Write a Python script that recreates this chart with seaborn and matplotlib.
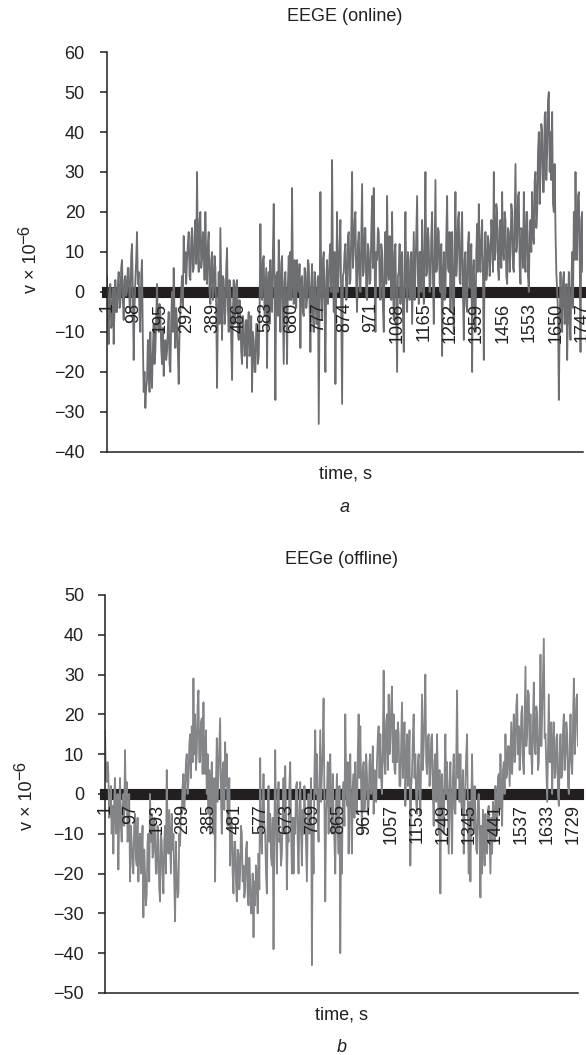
import numpy as np
import pandas as pd
import matplotlib
matplotlib.use('Agg')
import matplotlib.pyplot as plt
import seaborn as sns

# EEG online trace (v x 1e-6) left to right
eeg_online = [
    4, -6, -13, 0, 2, -9, -8, 1, -13, -4, 3, -5,
    -5, 2, 5, -4, -3, 6, 8, -2, -7, 3, 4, -1,
    0, 6, 6, -3, -5, 9, 12, 0, -17, -4, 3, 8,
    15, 2, 5, -6, -10, 4, 8, -12, -25, -20, -29, -24,
    -22, -12, -18, -25, -10, -20, -24, -14, -8, -18, -15, -6,
    2, -8, -10, -3, -5, -14, -18, -9, -21, -13, -12, -17,
    -15, -9, -5, -18, -20, -7, 0, -10, 6, -6, -14, -4,
    -8, -15, -23, -10, -5, 0, 4, -4, 14, 5, 10, 2,
    8, 12, 15, 4, 3, 13, 16, 5, 6, 14, 18, 7,
    30, 10, 5, 18, 20, 6, 8, 15, 12, 3, 20, 8,
    2, 12, 15, 0, -3, 8, 10, -2, 0, 9, 6, -4,
    -24, -5, 5, -8, 16, 2, -12, 4, 3, -8, -5, 6,
    11, -4, -10, 3, 0, -12, -22, -5, 3, -8, -5, 2,
    3, -10, -12, -2, -6, -15, -18, -6, -8, -16, -15, -7,
    -19, -8, -5, -16, -14, -6, -25, -10, -12, -20, -20, -8,
    -8, -18, -16, -5, 17, 0, -2, 8, 9, -6, 0, 6,
    -19, 2, 5, -8, 8, -3, -5, 10, 22, 0, -27, 4,
    5, -6, 13, 0, -10, 7, 9, -4, -18, 3, 5, -3,
    -18, 2, 9, -2,
    10, -2, 26, 3, -3, 8, 5, -4, 8, 2, 0, 7,
    -14, 3, 4, -5, -6, 6, 5, -4, -2, 8, 7, -3,
    -15, 2, 7, -6, -10, 5, 3, -8, -8, 4, -33, -5,
    25, 2, -7, 8, 10, -4, -20, 3, 8, -3, 2, 9,
    12, 0, 33, 6, -5, 10, -23, 2, 20, 0, 5, 12,
    18, -5, -28, 4, 5, 10, 12, -2, 0, 14, 15, 2,
    3, 15, 30, 6, 10, 18, 20, 2, -5, 12, 15, 4,
    0, 14, 27, 4, 5, 16, 16, -1, -2, 12, 10, 2,
    3, 15, 24, 6, 26, 8, -10, 10, 8, 16, 15, 2,
    -2, 12, 10, -4, -10, 8, 15, 2, 24, 5, 3, 14,
    8, -2, 20, 3, -7, 10, 12, -4, -20, 4, 5, 12,
    -3, 8, 10, -6, -15, 6, 20, 2, -5, 10, 8, -2,
    0, 10, -8, 4, 15, -2, 5, 14, 24, 3, -3, 10,
    10, 0, 18, 5, -3, 12, 30, 4, 5, 16, 12, 0,
    2, 14, 20, 3, -8, 10, 28, 5, 6, 16, 15, 2,
    0, 12, -16, 3, 10, -2, 0, 14, 24, 6, 5, 15,
    -5, 10, 15, -3, -10, 12, 25, 4, 8, 18, 20, 3,
    2, 14, 20, 0, -12, 8, 10, -3, -5, 12, 15, 1,
    3, 12, -20, 5, 8, -4, -10, 10, 17, 5, 22, 8,
    5, 14, 18, 4, -17, 8, 15, 3, 5, 14, 12, 4,
    8, 18, 15, 5, 30, 8, 10, 22, 20, 6, 3, 16,
    18, 6, 25, 10, 8, 20, 18, 4, 2, 16, 15, 5,
    10, 22, 20, 6, 5, 18, 32, 10, 12, 24, 25, 6,
    2, 16, 15, 6, 25, 10, 5, 20, 20, 4, 0, 15,
    18, 10, 25, 14, 12, 28, 30, 16, 20, 35, 40, 22,
    30, 42, 40, 25, 25, 44, 45, 28, 35, 48, 50, 30,
    40, 28, 45, 22, 20, 32, 15, 5, 0, -5, -27, -8,
    5, -6, -10, 3, 5, -8, -5, 2, -17, -4, 5, -8,
    -12, 2, 10, -4, 20, 8, 30, 12, 8, 24, 25, 10,
    -15, 18, 20, 5,
]

# EEG offline trace
eeg_offline = [
    16, 4, 3, 8, 5, -6, -5, 2, -10, -3,
    -15, -2, 4, -10, -8, 0, -19, -6, 4, -8, -12, -3,
    0, -8, 11, -4, 3, -12, -10, 0, -22, -8, -12, -18,
    -20, -8, -5, -16, -18, -6, -22, -12, -10, -20, -15, -8,
    -31, -14, -20, -28, -25, -12, -10, -22, 0, -12, -5, -16,
    -15, -6, -10, -20, -20, -8, -12, -24, -27, -10, -12, -20,
    -25, -12, -8, -20, 6, -10, -15, -4, -12, -20, -5, -14,
    -10, -22, -32, -12, -20, -26, -25, -10, -13, -4, -5, 2,
    5, -4, 0, 8, 10, 0, 3, 12, 15, 4, 17, 8,
    29, 10, 20, 6, 10, 22, 26, 8, 8, 18, 19, 5,
    23, 8, 5, 16, 0, 10, -5, 6, -10, 2, 8, -4,
    -10, 4, -22, 2, 14, -2, 5, 12, 19, 0, -10, 6,
    8, -4, 13, 2, 10, -8, -5, 4, -18, -6, -8, -20,
    -25, -12, -12, -22, -27, -14, -15, -24, -20, -8, -10, -22,
    -18, -26, -24, -14, -12, -25, -28, -16, -22, -30, -30, -20,
    -36, -22, -28, -18, -20, -30, -15, -24, 9, -10, -15, -4,
    5, -8, -10, -20, -25, -5, 2, -12, -5, -16, -18, -6,
    -39, -10, 11, -6, -20, -4, 3, -12, -10, -18, -15, -4,
    4, -10, 7, -6, -24, -10, -12, 2, 8, -8, -20, -6,
    -20, -6, -10, 2, 3, -12, -20, -4,
    3, -10, -18, -4, -10, 2, -5, -14, -22, -6, 0, -10,
    -5, 4, -43, -8, -20, 5, 16, 0, 10, -6, -12, 2,
    16, -2, 5, 12, 24, 0, -27, -5, 0, 8, -10, 4,
    10, -4, -10, 5, -5, -12, -20, -2, 5, -8, -15, 2,
    -40, -10, -20, 0, 3, -8, 20, 4, -3, 8, -15, 2,
    10, -6, -15, 2, 5, -6, 8, -4, -5, 10, 20, 4,
    17, 2, -10, 6, 8, -4, 0, 10, 5, -5, -3, 8,
    10, 0, 2, 12, -5, 6, 5, -2, 8, 14, 17, 4,
    15, 4, 0, 12, 31, 8, 5, 18, 20, 6, 25, 10,
    13, 22, 27, 8, 20, 6, 5, 16, 8, 18, 15, 2,
    2, 12, 23, 4, 10, 18, -3, 8, 15, 2, 8, 16,
    -18, 2, 5, 14, 20, 4, 10, -2, -5, 8, 10, 0,
    -5, 10, 25, 6, 12, 20, 30, 8, 5, 14, 15, 2,
    5, 14, 15, 0, -8, 8, 10, -2, 15, 4, -10, 6,
    -25, 2, 5, -6, -10, 4, 15, 0, 8, -4, -15, 2,
    8, -6, -15, 4, 10, -4, -5, 8, 26, 4, 10, -2,
    10, -2, -5, 6, -15, -2, 3, 10, 15, -5, -20, -2,
    -22, -4, 10, -6, -10, 2, -5, -14, -15, -2, 0, -10,
    -26, -8, -20, -4, -10, -18, -5, -14, -15, -4, -3, -12,
    -20, -6, -15, -2, -5, -12, 2, -6, -10, 4, 5, -4,
    10, 0, -8, 6, 8, 0, 15, 4, 5, 12, 12, 2,
    10, 18, 5, 12, 20, 8, 10, 22, 25, 10, 17, 6,
    10, 20, 22, 8, 5, 18, 32, 12, 15, 26, 25, 10,
    20, 10, 5, 18, 28, 12, 10, 22, 20, 6, 8, 18,
    35, 12, 20, 30, 39, 14, 15, 6, -2, 12, 25, 8,
    8, 18, 0, 12, 18, 4, 5, 14, 15, 0, -3, 10,
    15, 4, 5, 16, 20, 6, 10, 18, 15, 2, 0, 12,
    20, 8, 5, 18, 29, 10, 15, 24, 25, 12,
]

n_online = 1750
n_offline = 1748

xlabels_online = ['1', '98', '195', '292', '389', '486', '583', '680', '777', '874',
                  '971', '1068', '1165', '1262', '1359', '1456', '1553', '1650', '1747']
xlabels_offline = ['1', '97', '193', '289', '385', '481', '577', '673', '769', '865',
                   '961', '1057', '1153', '1249', '1345', '1441', '1537', '1633', '1729']
yticks_online = [-40, -30, -20, -10, 0, 10, 20, 30, 40, 50, 60]
yticks_offline = [-50, -40, -30, -20, -10, 0, 10, 20, 30, 40, 50]

ink = '#231f20'

sns.set_style('ticks')
plt.rcParams['font.family'] = ['Liberation Sans', 'DejaVu Sans']
plt.rcParams['text.color'] = ink
plt.rcParams['axes.labelcolor'] = ink
plt.rcParams['xtick.color'] = ink
plt.rcParams['ytick.color'] = ink


def draw_panel(ax, values, n_samples, xlabels, yticks, color, title, letter,
               ylab_xy, ypad):
    df = pd.DataFrame({'sample': np.linspace(1, n_samples, len(values)),
                       'v': values})
    sns.lineplot(data=df, x='sample', y='v', ax=ax, color=color, linewidth=1.3,
                 estimator=None, sort=False, zorder=2)

    # category axis crossing at zero: dense tick marks make a black band
    ax.spines['bottom'].set_position(('data', 0))
    ax.spines['bottom'].set_linewidth(8)
    ax.spines['bottom'].set_color(ink)
    ax.spines['bottom'].set_zorder(1.5)
    ax.spines['top'].set_position(('axes', 0))
    ax.spines['top'].set_linewidth(1.1)
    ax.spines['top'].set_color(ink)
    ax.spines['right'].set_visible(False)
    ax.spines['left'].set_linewidth(1.1)
    ax.spines['left'].set_color(ink)
    ax.xaxis.set_zorder(3)

    ax.set_xlim(1, n_samples)
    ax.set_ylim(yticks[0], yticks[-1])
    ax.set_yticks(yticks)
    ax.set_xticks([int(s) for s in xlabels])
    ax.set_xticklabels(xlabels)

    ax.tick_params(axis='x', length=0, pad=7.5, labelsize=13, labelrotation=90)
    ax.tick_params(axis='y', direction='out', length=5, width=1.1, pad=ypad,
                   labelsize=13)

    ax.set_xlabel('')
    ax.set_ylabel('v × 10', fontsize=13)
    ax.yaxis.set_label_coords(*ylab_xy)
    # exponent set a bit smaller, just above the end of the label
    ax.annotate('\u22126', xy=(0.55, 1.0), xycoords=ax.yaxis.label,
                rotation=90, rotation_mode='anchor', ha='left', va='bottom',
                fontsize=12, annotation_clip=False)

    ax.text(0.5, 1.088, title, transform=ax.transAxes, ha='center', va='center',
            fontsize=13)
    ax.text(0.5, -0.055, 'time, s', transform=ax.transAxes, ha='center',
            va='center', fontsize=13)
    ax.text(0.5, -0.138, letter, transform=ax.transAxes, ha='center',
            va='center', fontsize=13, style='italic')


fig = plt.figure(figsize=(5.86, 10.55), dpi=100)
ax1 = fig.add_axes([0.1826, 0.5716, 0.8123, 0.3791])
ax2 = fig.add_axes([0.1792, 0.0588, 0.8072, 0.3773])

draw_panel(ax1, eeg_online, n_online, xlabels_online, yticks_online,
           '#6d6e71', 'EEGE (online)', 'a', (-0.141, 0.459), 11)
draw_panel(ax2, eeg_offline, n_offline, xlabels_offline, yticks_offline,
           '#848588', 'EEGe (offline)', 'b', (-0.146, 0.473), 10)

fig.savefig('out.png', dpi=100, facecolor='white')
